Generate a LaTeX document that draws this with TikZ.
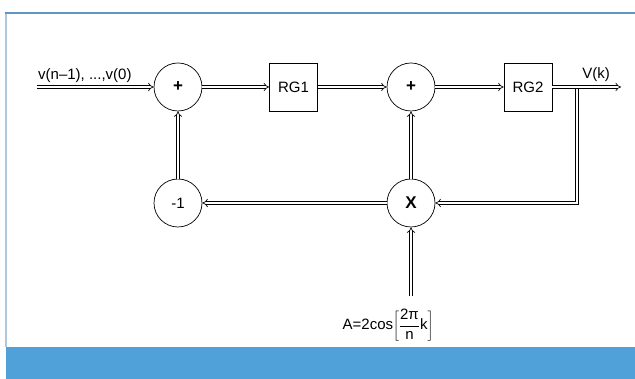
\documentclass[tikz,border=0pt]{standalone}
\usepackage{fontspec}
\setmainfont{Liberation Sans}
\usetikzlibrary{arrows.meta}
\definecolor{frameblue}{RGB}{95,150,195}
\definecolor{framelight}{RGB}{175,200,222}
\definecolor{bandblue}{RGB}{80,160,218}

\begin{document}
\begin{tikzpicture}[x=1pt,y=-1pt,
  sum/.style={draw, line width=0.7pt, circle, minimum size=48pt, inner sep=0pt, font=\fontsize{17}{17}\selectfont\bfseries},
  block/.style={draw, line width=0.7pt, minimum width=48pt, minimum height=48pt, inner sep=0pt, font=\fontsize{15}{15}\selectfont},
  link/.style={double, double distance=2.2pt, line width=0.65pt, -{Implies}},
  lbl/.style={font=\fontsize{15}{15}\selectfont, inner sep=0pt}]

  \useasboundingbox (0,0) rectangle (635,379);

  % Frame and bottom band
  \fill[bandblue] (6,347) rectangle (635,379);
  \draw[framelight, line width=2pt] (6,347) -- (6,13);
  \draw[frameblue, line width=1.2pt] (5,13) -- (635,13);

  \node[sum] (S1) at (178,87) {+};
  \node[block] (RG1) at (293.5,87) {RG1};
  \node[sum] (S2) at (411,87) {+};
  \node[block] (RG2) at (528,87) {RG2};
  \node[sum] (X) at (411,203) {X};
  \node[sum, font=\fontsize{15}{15}\selectfont] (N1) at (178,203) {-1};

  \coordinate (In) at (37,87);
  \coordinate (Out) at (621,87);
  \coordinate (Tap) at (577,87);
  \coordinate (Corner) at (577,203);
  \coordinate (A0) at (411,296);

  \node[lbl, anchor=base west] (InLbl) at (38,80) {v(n–1), ...,v(0)};
  \node[lbl, anchor=base] (OutLbl) at (596,79) {V(k)};
  \node[lbl] (ALbl) at (388,325) {A=2cos$\displaystyle\left[\frac{\mbox{2π}}{\mbox{n}}\mbox{k}\right]$};

  % Draw forward path
  \draw[link] (In) -- (S1);
  \draw[link] (S1) -- (RG1);
  \draw[link] (RG1) -- (S2);
  \draw[link] (S2) -- (RG2);

  % Draw feedback loop
  \draw[link] (Tap) -- (Corner) -- (X);
  \draw[link] (RG2) -- (Out);
  \draw[link] (X) -- (N1);
  \draw[link] (N1) -- (S1);
  \draw[link] (X) -- (S2);
  \draw[link] (A0) -- (X);

\end{tikzpicture}
\end{document}
